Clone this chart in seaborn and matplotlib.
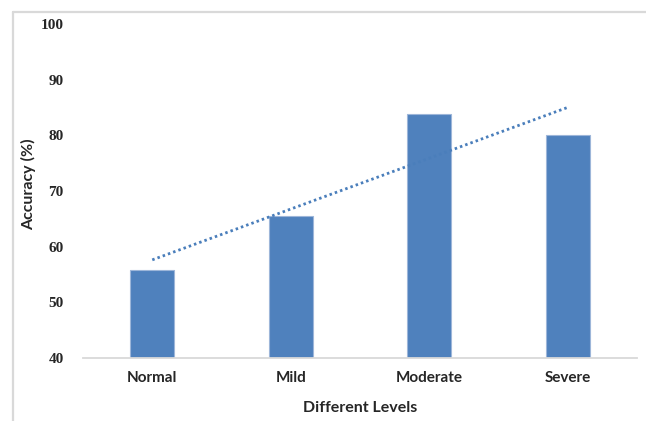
import numpy as np
import pandas as pd
import matplotlib
matplotlib.use("Agg")
import matplotlib.pyplot as plt
from matplotlib.lines import Line2D
import seaborn as sns

levels = ["Normal", "Mild", "Moderate", "Severe"]
accuracy = [55.8, 65.5, 83.9, 80.1]
y_ticks = [40, 50, 60, 70, 80, 90, 100]

df = pd.DataFrame({"Level": levels, "Accuracy": accuracy})

sns.set_style("white")
BAR = "#4f81bd"

fig = plt.figure(figsize=(6.46, 4.21), dpi=100)
ax = fig.add_axes([83 / 646, 1 - 358 / 421, (637 - 83) / 646, (358 - 24) / 421])

sns.barplot(data=df, x="Level", y="Accuracy", color=BAR, width=0.32,
            edgecolor="#9db6d9", linewidth=0.8, saturation=1, ax=ax)

# linear trend across the four levels
xs = np.arange(len(levels))
slope, intercept = np.polyfit(xs, accuracy, 1)
ax.plot([xs[0], xs[-1]], [intercept, intercept + slope * xs[-1]],
        linestyle=(0, (0.9, 1.1)), color="#4a7ebb", linewidth=2.0,
        dash_capstyle="butt")

ax.set_ylim(40, 100)
ax.set_xlim(-0.5, len(levels) - 0.5)
ax.set_yticks(y_ticks)
ax.set_yticklabels([str(t) for t in y_ticks], family="Liberation Serif",
                   fontweight="bold", fontsize=11)
ax.set_xticks(xs)
ax.set_xticklabels(levels, family="Lato", fontweight="bold", fontsize=11)
ax.tick_params(axis="both", length=0)
ax.tick_params(axis="y", pad=14)
ax.tick_params(axis="x", pad=9)

for side in ["left", "right", "top"]:
    ax.spines[side].set_visible(False)
ax.spines["bottom"].set_color("#d9d9d9")
ax.spines["bottom"].set_linewidth(1.3)

ax.set_xlabel("Different Levels", family="Lato", fontweight="bold",
              fontsize=11.5, labelpad=12)
ax.set_ylabel("Accuracy (%)", family="Lato", fontweight="bold",
              fontsize=11.5)
ax.yaxis.set_label_coords(-0.085, 0.52)

# light frame around the chart area
fx = 12.5 / 646
fy = 1 - 11.5 / 421
fig.add_artist(Line2D([fx, fx], [0, fy], transform=fig.transFigure,
                      color="#d9d9d9", linewidth=1.6))
fig.add_artist(Line2D([fx, 1], [fy, fy], transform=fig.transFigure,
                      color="#d9d9d9", linewidth=1.6))

fig.savefig("out.png", dpi=100)
